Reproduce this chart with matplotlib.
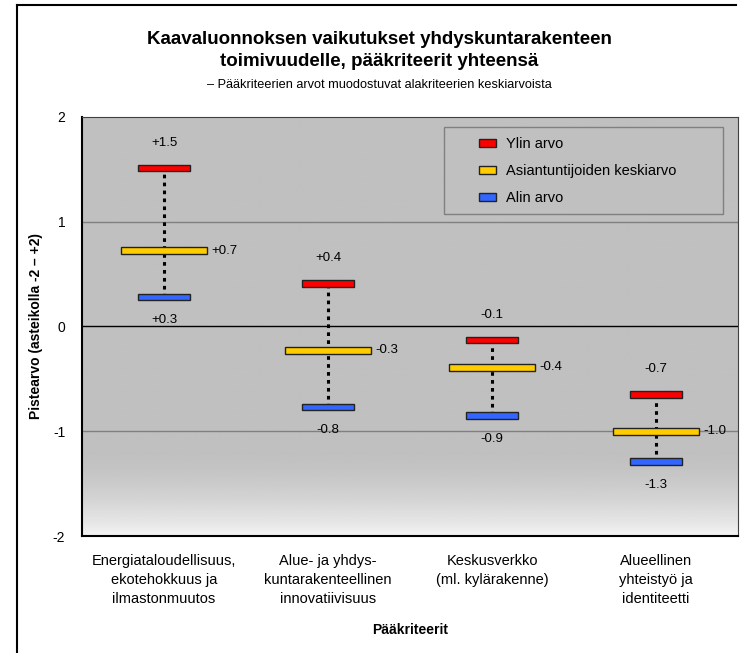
import numpy as np
import matplotlib.pyplot as plt
from matplotlib.lines import Line2D
from matplotlib.patches import Rectangle

plt.rcParams['font.family'] = ['Liberation Sans', 'DejaVu Sans']

categories = ["Energiataloudellisuus,\nekotehokkuus ja\nilmastonmuutos",
              "Alue- ja yhdys-\nkuntarakenteellinen\ninnovatiivisuus",
              "Keskusverkko\n(ml. kylärakenne)",
              "Alueellinen\nyhteistyö ja\nidentiteetti"]
ylin = [1.51, 0.41, -0.13, -0.65]
keski = [0.72, -0.23, -0.39, -1.0]
alin = [0.28, -0.77, -0.85, -1.29]
ylin_lbl = ["+1.5", "+0.4", "-0.1", "-0.7"]
keski_lbl = ["+0.7", "-0.3", "-0.4", "-1.0"]
alin_lbl = ["+0.3", "-0.8", "-0.9", "-1.3"]
colors = ['#ff0000', '#ffcc00', '#3366ff']
names = ["Ylin arvo", "Asiantuntijoiden keskiarvo", "Alin arvo"]

W, H = 746, 653
fig = plt.figure(figsize=(W/100, H/100), dpi=100)
ax = fig.add_axes([82/W, 1-536/H, 656/W, (536-116.7)/H])

# background gradient: gray, fading to white near bottom
yy = np.linspace(-2, 2, 400)
shade = np.where(yy > -1.2, 0.753, 0.753 + (0.95 - 0.753) * ((-1.2 - yy) / 0.8) ** 1.6)
img = np.repeat(shade[:, None], 2, axis=1)
ax.imshow(img, extent=[0, 4, -2, 2], origin='lower', cmap='gray', vmin=0, vmax=1,
          aspect='auto', zorder=0)

ax.set_xlim(0, 4)
ax.set_ylim(-2, 2)
for g in [1, -1]:
    ax.axhline(g, color='#808080', lw=1, zorder=1)
ax.axhline(0, color='black', lw=1, zorder=1)

x = np.arange(len(categories)) + 0.5
bh = 0.065
for i in range(len(categories)):
    ax.plot([x[i], x[i]], [alin[i], ylin[i]], color='black', ls=(0, (1.2, 1.4)), lw=2.2, zorder=2)
    for v, w, c in [(ylin[i], 0.32, colors[0]), (keski[i], 0.52, colors[1]), (alin[i], 0.32, colors[2])]:
        ax.add_patch(Rectangle((x[i] - w/2, v - bh/2), w, bh, facecolor=c,
                               edgecolor='#222222', lw=1, zorder=3))
    ax.text(x[i], ylin[i] + 0.24, ylin_lbl[i], ha='center', va='center', fontsize=9.5)
    ax.text(x[i] + 0.29, keski[i], keski_lbl[i], ha='left', va='center', fontsize=9.5)
    ax.text(x[i], alin[i] - 0.22, alin_lbl[i], ha='center', va='center', fontsize=9.5)

ax.set_xticks(x)
ax.set_xticklabels(categories, fontsize=10.5, linespacing=1.45)
ax.set_yticks([-2, -1, 0, 1, 2])
ax.set_yticklabels(["-2", "-1", "0", "1", "2"], fontsize=10)
ax.tick_params(axis='y', length=0, pad=12)
ax.tick_params(axis='x', length=0, pad=13)
for s in ['top', 'right']:
    ax.spines[s].set_color('#404040')
for s in ['left', 'bottom']:
    ax.spines[s].set_linewidth(1.5)
ax.set_ylabel("Pistearvo (asteikolla -2 – +2)", fontsize=10, fontweight='bold', labelpad=7)
ax.set_xlabel("Pääkriteerit", fontsize=10, fontweight='bold', labelpad=12)

# legend: frame drawn separately so entries can sit inset like the original
ax.add_patch(Rectangle((444/W, 1-214/H), (723-444)/W, (214-127)/H, transform=fig.transFigure,
                       facecolor='#c0c0c0', edgecolor='#808080', lw=1, zorder=4))
handles = [Rectangle((0, 0), 1, 1, facecolor=c, edgecolor='#222222', lw=1) for c in colors]
leg = ax.legend(handles, names, loc='center left', bbox_to_anchor=(479/W, 1-171/H),
                bbox_transform=fig.transFigure, fontsize=10.5, frameon=False,
                handlelength=1.15, handleheight=0.48, borderpad=0, borderaxespad=0,
                labelspacing=0.88, handletextpad=0.7)
leg.set_zorder(5)

fig.text(0.508, 1-40/H, "Kaavaluonnoksen vaikutukset yhdyskuntarakenteen", ha='center', va='center',
         fontsize=13.5, fontweight='bold')
fig.text(0.508, 1-62/H, "toimivuudelle, pääkriteerit yhteensä", ha='center', va='center',
         fontsize=13.5, fontweight='bold')
fig.text(0.508, 1-85/H, "– Pääkriteerien arvot muodostuvat alakriteerien keskiarvoista", ha='center',
         va='center', fontsize=9.2)

# outer frame (top and left edges)
fig.add_artist(Line2D([17/W, 736/W], [1-5/H, 1-5/H], color='black', lw=1.5))
fig.add_artist(Line2D([17/W, 17/W], [0, 1-5/H], color='black', lw=1.5))

fig.savefig("out.png", dpi=100)
